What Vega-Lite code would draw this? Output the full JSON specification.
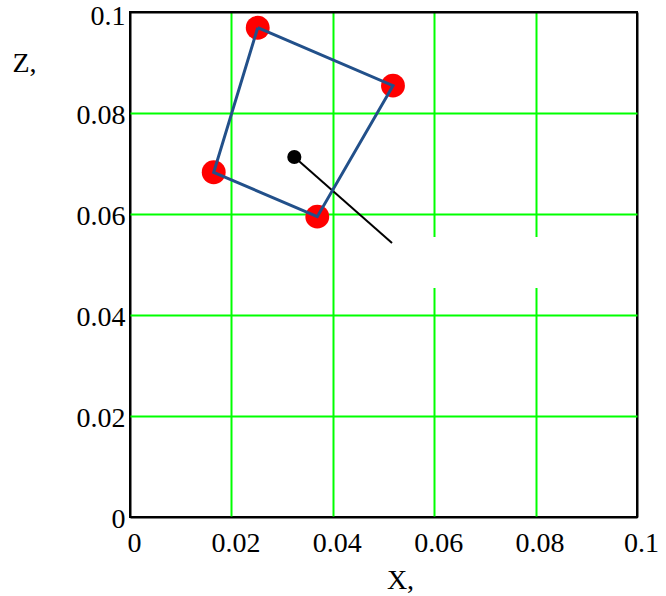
{
  "$schema": "https://vega.github.io/schema/vega-lite/v6.json",
  "width": 507,
  "height": 505,
  "autosize": {"type": "none"},
  "padding": {"left": 130, "top": 12, "right": 29, "bottom": 79},
  "background": "white",
  "config": {
    "view": {"stroke": "black", "strokeWidth": 2},
    "font": "Liberation Serif"
  },
  "datasets": {
    "pts": [
      {"x": 0.02519, "z": 0.09689, "k": 1},
      {"x": 0.05187, "z": 0.08541, "k": 2},
      {"x": 0.03694, "z": 0.05947, "k": 3},
      {"x": 0.01651, "z": 0.06826, "k": 4},
      {"x": 0.02519, "z": 0.09689, "k": 5}
    ],
    "needle": [
      {"x": 0.03241, "z": 0.07129, "k": 1},
      {"x": 0.05168, "z": 0.05426, "k": 2}
    ],
    "center": [
      {"x": 0.03241, "z": 0.07129}
    ],
    "mask": [
      {"x1": 0.0525, "x2": 0.083, "z1": 0.04535, "z2": 0.05545}
    ]
  },
  "encoding": {
    "x": {
      "field": "x", "type": "quantitative",
      "scale": {"domain": [0, 0.1], "nice": false, "zero": false},
      "axis": {
        "title": "X,", "values": [0, 0.02, 0.04, 0.06, 0.08, 0.1],
        "labelExpr": "datum.value == 0 ? '0' : format(datum.value, '.2~f')",
        "domain": false, "ticks": false,
        "grid": true,
        "gridColor": {"condition": {"test": "datum.value == 0 || datum.value == 0.1", "value": "black"}, "value": "#00ff00"},
        "gridWidth": 2, "gridOpacity": 1,
        "labelFont": "Liberation Serif", "labelFontSize": 28, "labelColor": "black",
        "labelPadding": 12, "labelOffset": 4, "labelFlush": false,
        "titleFont": "Liberation Serif", "titleFontSize": 28, "titleFontWeight": "normal", "titleColor": "black",
        "titleAlign": "center", "titleBaseline": "alphabetic", "titleX": 270, "titleY": 71
      }
    },
    "y": {
      "field": "z", "type": "quantitative",
      "scale": {"domain": [0, 0.1], "nice": false, "zero": false},
      "axis": {
        "title": "Z,", "values": [0, 0.02, 0.04, 0.06, 0.08, 0.1],
        "labelExpr": "datum.value == 0 ? '0' : format(datum.value, '.2~f')",
        "domain": false, "ticks": false,
        "grid": true,
        "gridColor": {"condition": {"test": "datum.value == 0 || datum.value == 0.1", "value": "black"}, "value": "#00ff00"},
        "gridWidth": 2, "gridOpacity": 1,
        "labelFont": "Liberation Serif", "labelFontSize": 28, "labelColor": "black",
        "labelPadding": 5, "labelFlush": false, "labelBaseline": "middle",
        "labelOffset": {"condition": {"test": "datum.value == 0.1", "value": 4}, "value": 2},
        "titleFont": "Liberation Serif", "titleFontSize": 28, "titleFontWeight": "normal", "titleColor": "black",
        "titleAngle": 0, "titleAlign": "left", "titleBaseline": "alphabetic",
        "titleX": -118, "titleY": 59
      }
    }
  },
  "layer": [
    {
      "data": {"name": "mask"},
      "mark": {"type": "rect", "fill": "white"},
      "encoding": {
        "x": {"field": "x1", "type": "quantitative"},
        "x2": {"field": "x2"},
        "y": {"field": "z1", "type": "quantitative"},
        "y2": {"field": "z2"}
      }
    },
    {
      "data": {"name": "needle"},
      "mark": {"type": "line", "color": "black", "strokeWidth": 2},
      "encoding": {"order": {"field": "k"}}
    },
    {
      "data": {"name": "center"},
      "mark": {"type": "circle", "color": "black", "opacity": 1, "size": 200}
    },
    {
      "data": {"name": "pts"},
      "transform": [{"filter": "datum.k < 5"}],
      "mark": {"type": "circle", "color": "#ff0000", "opacity": 1, "size": 570}
    },
    {
      "data": {"name": "pts"},
      "mark": {"type": "line", "color": "#22508a", "strokeWidth": 3},
      "encoding": {"order": {"field": "k"}}
    }
  ]
}
